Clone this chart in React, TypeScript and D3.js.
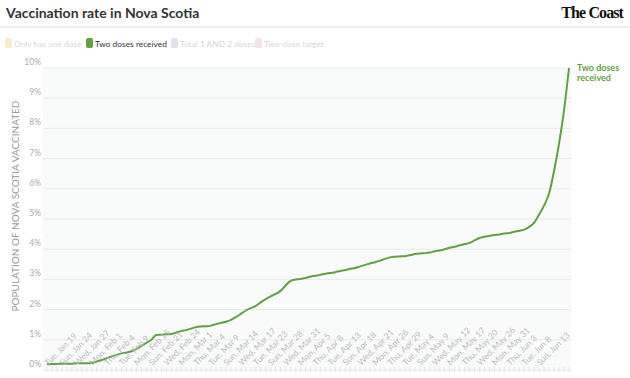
import React from "react";
import * as d3 from "d3";

const dates: string[] = [
  "2021-01-19","2021-01-20","2021-01-22","2021-01-24","2021-01-25","2021-01-26","2021-01-27","2021-01-28","2021-01-29","2021-02-01",
  "2021-02-02","2021-02-03","2021-02-04","2021-02-05","2021-02-08","2021-02-09","2021-02-10","2021-02-12","2021-02-15","2021-02-16",
  "2021-02-19","2021-02-21","2021-02-22","2021-02-23","2021-02-24","2021-02-25","2021-02-26","2021-03-01","2021-03-02","2021-03-03",
  "2021-03-04","2021-03-05","2021-03-08","2021-03-09","2021-03-10","2021-03-12","2021-03-14","2021-03-15","2021-03-16","2021-03-17",
  "2021-03-18","2021-03-22","2021-03-23","2021-03-24","2021-03-26","2021-03-28","2021-03-29","2021-03-30","2021-03-31","2021-04-01",
  "2021-04-03","2021-04-05","2021-04-06","2021-04-07","2021-04-08","2021-04-09","2021-04-12","2021-04-13","2021-04-14","2021-04-16",
  "2021-04-18","2021-04-19","2021-04-20","2021-04-21","2021-04-22","2021-04-23","2021-04-26","2021-04-27","2021-04-28","2021-04-29",
  "2021-04-30","2021-05-03","2021-05-04","2021-05-05","2021-05-07","2021-05-09","2021-05-10","2021-05-11","2021-05-12","2021-05-13",
  "2021-05-14","2021-05-17","2021-05-18","2021-05-19","2021-05-20","2021-05-21","2021-05-25","2021-05-26","2021-05-27","2021-05-28",
  "2021-05-31","2021-06-01","2021-06-02","2021-06-03","2021-06-04","2021-06-07","2021-06-08","2021-06-09","2021-06-11","2021-06-13",
  "2021-06-14","2021-06-15","2021-06-16","2021-06-17","2021-06-18","2021-06-19"
];

const twoDoses: number[] = [
  0.19,0.2,0.2,0.21,0.21,0.21,0.22,0.22,0.22,0.23,
  0.28,0.33,0.39,0.45,0.5,0.55,0.58,0.62,0.7,0.8,
  0.9,1.0,1.16,1.17,1.18,1.19,1.24,1.29,1.32,1.37,
  1.42,1.44,1.45,1.47,1.52,1.56,1.6,1.66,1.75,1.86,
  1.97,2.05,2.12,2.24,2.35,2.44,2.52,2.62,2.8,2.95,
  3.0,3.01,3.05,3.09,3.12,3.15,3.19,3.21,3.24,3.28,
  3.31,3.35,3.38,3.43,3.48,3.53,3.57,3.62,3.68,3.73,
  3.75,3.76,3.77,3.8,3.84,3.86,3.87,3.89,3.93,3.96,
  4.0,4.05,4.08,4.13,4.17,4.21,4.29,4.37,4.41,4.44,
  4.47,4.49,4.52,4.54,4.58,4.61,4.65,4.74,4.88,5.15,
  5.45,5.85,6.6,7.5,8.6,10.0
];

const yTicks: number[] = [0,1,2,3,4,5,6,7,8,9,10];

const legendLabels: string[] = ["Only has one dose", "Two doses received", "Total 1 AND 2 doses", "Two-dose target"];
const legendColors: string[] = ["#f6ebcc", "#62a044", "#e3e0ee", "#f1e2ef"];
const legendTextColors: string[] = ["#d6d6d6", "#333333", "#d6d6d6", "#d6d6d6"];
const legendX: number[] = [5, 86, 171, 255];

const FONT = "Lato, 'Open Sans', sans-serif";

export default function App() {
  const W = 630, H = 378;
  const left = 43, right = 571, top = 68, bottom = 370;
  const parse = d3.timeParse("%Y-%m-%d");
  const fmt = d3.timeFormat("%a, %b %-d");
  const x = d3.scalePoint<number>().domain(dates.map((_, i) => i)).range([47, 569]);
  const y = d3.scaleLinear().domain([0, 10]).range([bottom, top]);
  const line = d3.line<number>().x((_, i) => x(i) as number).y(d => y(d)).curve(d3.curveMonotoneX);
  const green = "#62a044";

  return (
    <svg width={W} height={H} style={{ position: "absolute", left: 0, top: 0, background: "#fff" }}>
      <text x={6} y={18} fontSize={14} fontWeight={700} fill="#333" fontFamily={FONT}>Vaccination rate in Nova Scotia</text>
      <text x={623} y={18} textAnchor="end" fontSize={16} fontWeight={700} fill="#111" fontFamily="'Liberation Serif', serif" letterSpacing={-0.9}>The Coast</text>
      <rect x={0} y={26} width={W} height={2} fill="#eeeeee" />
      {legendLabels.map((lab, i) => (
        <g key={i} transform={`translate(${legendX[i]},38)`}>
          <rect x={0} y={0} width={7} height={10} rx={2} fill={legendColors[i]} />
          <text x={9} y={8.5} fontSize={8.4} fill={legendTextColors[i]} fontFamily={FONT}>{lab}</text>
        </g>
      ))}
      <rect x={left} y={top} width={right - left} height={bottom - top + 2} fill="#f9fafa" />
      {yTicks.map(t => (
        <g key={t}>
          <line x1={left} x2={right} y1={y(t)} y2={y(t)} stroke="#e8eaea" strokeWidth={1} />
          <text x={41} y={y(t) - 3} textAnchor="end" fontSize={8.5} fill="#aaa" fontFamily={FONT}>{t}%</text>
        </g>
      ))}
      {dates.map((_, i) => (
        <line key={i} x1={x(i)} x2={x(i)} y1={bottom - 3} y2={bottom + 2} stroke="#e4e6e6" strokeWidth={1} />
      ))}
      <text transform={`translate(19,206) rotate(-90)`} textAnchor="middle" fontSize={10} fill="#999" fontFamily={FONT}>POPULATION OF NOVA SCOTIA VACCINATED</text>
      <path d={line(twoDoses) || ""} fill="none" stroke={green} strokeWidth={2} />
      {dates.map((d, i) => i % 3 === 0 && i <= 99 ? (
        <text key={i} transform={`translate(${(x(i) as number) + 1},${bottom - 4}) rotate(-45)`} fontSize={8.5} fill="#bbb" fontFamily={FONT}>{fmt(parse(d) as Date)}</text>
      ) : null)}
      <text x={577} y={71} fontSize={9} fontWeight={700} fill={green} fontFamily={FONT}>Two doses</text>
      <text x={577} y={81} fontSize={9} fontWeight={700} fill={green} fontFamily={FONT}>received</text>
    </svg>
  );
}
